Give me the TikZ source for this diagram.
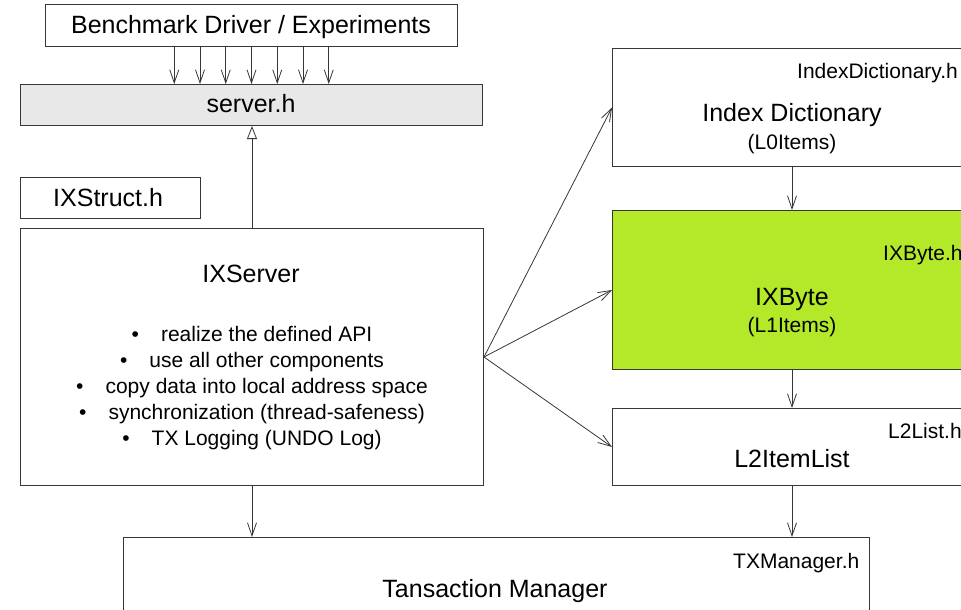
\documentclass[tikz,border=0pt]{standalone}
\usepackage{fontspec}
\setmainfont{Liberation Sans}
\usetikzlibrary{arrows.meta}
\definecolor{ixgreen}{RGB}{180,233,42}
\definecolor{hdrgray}{RGB}{232,232,232}
\definecolor{edge}{RGB}{55,55,55}

\begin{document}
\begin{tikzpicture}[x=1pt,y=-1pt,
  box/.style={draw=edge, line width=1pt, fill=white, inner sep=0pt, anchor=north west},
  big/.style={font=\fontsize{25}{30}\selectfont, inner sep=0pt},
  small/.style={font=\fontsize{21}{25}\selectfont, inner sep=0pt},
  link/.style={draw=edge, line width=0.8pt, -{Straight Barb[length=13pt,width=9pt]}},
  uses/.style={draw=edge, line width=0.8pt, -{Triangle[open,length=13pt,width=10pt]}},
]
\clip (0,0) rectangle (961,610);
\fill[white] (0,0) rectangle (961,610);

% component boxes
\node[box, minimum width=412pt, minimum height=42pt] (bench) at (45,4) {};
\node[box, fill=hdrgray, minimum width=462pt, minimum height=41pt] (api) at (20,84) {};
\node[box, minimum width=180pt, minimum height=41pt] (ixstruct) at (20,177) {};
\node[box, minimum width=463pt, minimum height=257pt] (ixserver) at (20,228) {};
\node[box, minimum width=400pt, minimum height=118pt] (dict) at (612,48) {};
\node[box, fill=ixgreen, minimum width=400pt, minimum height=159pt] (ixbyte) at (612,210) {};
\node[box, minimum width=400pt, minimum height=77pt] (l2) at (612,408) {};
\node[box, minimum width=746pt, minimum height=120pt] (txm) at (123,537) {};
\coordinate (col) at (792,0);

% labels
\node[big, anchor=base] (benchtxt) at (251,34) {Benchmark Driver / Experiments};
\node[big, anchor=base] (apitxt) at (251,112) {server.h};
\node[big, anchor=base west] (ixstructtxt) at (53,206) {IXStruct.h};
\node[big, anchor=base] (ixservertxt) at (251,282) {IXServer};
\node[small, anchor=base] (b1) at (252,341) {\textbullet\hspace{22pt}realize the defined API};
\node[small, anchor=base] (b2) at (252,367) {\textbullet\hspace{22pt}use all other components};
\node[small, anchor=base] (b3) at (252,393) {\textbullet\hspace{22pt}copy data into local address space};
\node[small, anchor=base] (b4) at (252,419) {\textbullet\hspace{22pt}synchronization (thread-safeness)};
\node[small, anchor=base] (b5) at (252,445) {\textbullet\hspace{22pt}TX Logging (UNDO Log)};

\node[small, anchor=base west] (dictfile) at (797,78) {IndexDictionary.h};
\node[big, anchor=base] (dicttxt) at (792,121) {Index Dictionary};
\node[small, anchor=base] (dictsub) at (792,149) {(L0Items)};

\node[small, anchor=base west] (ixbytefile) at (883,260) {IXByte.h};
\node[big, anchor=base] (ixbytetxt) at (792,305) {IXByte};
\node[small, anchor=base] (ixbytesub) at (792,332) {(L1Items)};

\node[small, anchor=base west] (l2file) at (888,438) {L2List.h};
\node[big, anchor=base] (l2txt) at (792,467) {L2ItemList};

\node[small, anchor=base west] (txmfile) at (733,568) {TXManager.h};
\node[big, anchor=base] (txmtxt) at (495,597) {Tansaction Manager};

% connectors
\foreach \i in {-3,...,3}
  \draw[link] ([xshift=\i*25.75pt]bench.south) -- ([xshift=\i*25.75pt]api.north);
\draw[uses] (ixserver.north) -- (ixserver.north |- api.south);
\draw[link] (ixserver.east) -- (dict.west);
\draw[link] (ixserver.east) -- (ixbyte.west);
\draw[link] (ixserver.east) -- (l2.west);
\draw[link] (col |- dict.south) -- (col |- ixbyte.north);
\draw[link] (col |- ixbyte.south) -- (col |- l2.north);
\draw[link] (col |- l2.south) -- (col |- txm.north);
\draw[link] (ixserver.south) -- (ixserver.south |- txm.north);
\end{tikzpicture}
\end{document}
